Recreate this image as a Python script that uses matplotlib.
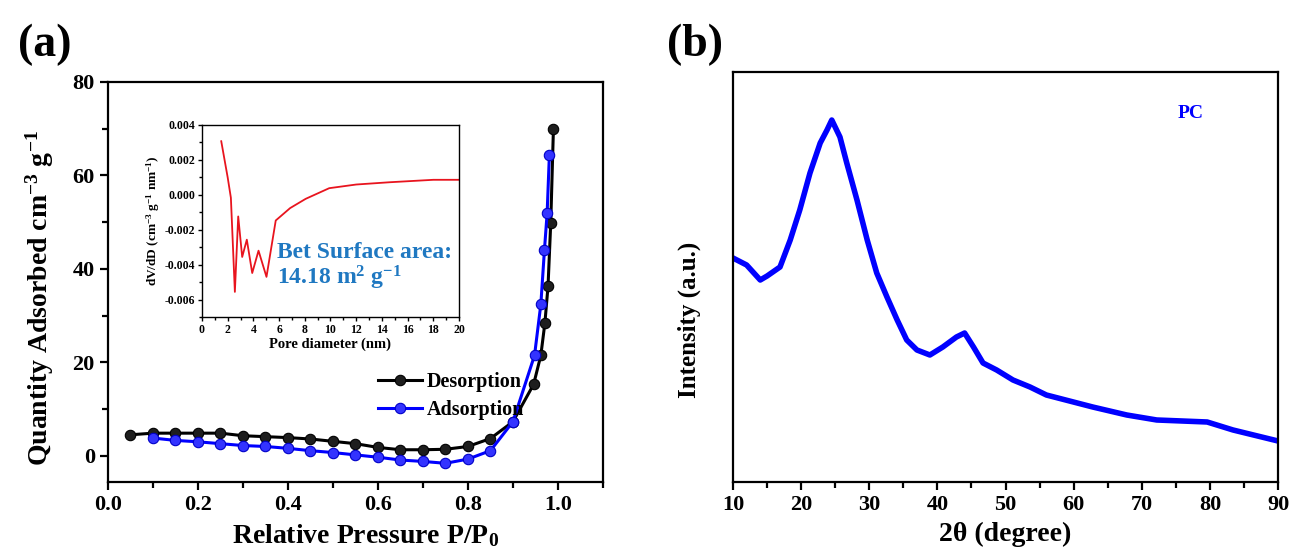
import matplotlib
matplotlib.use("Agg")
import matplotlib.pyplot as plt
import matplotlib.ticker as mticker

plt.rcParams['font.family'] = ['Liberation Serif', 'DejaVu Serif']
plt.rcParams['font.weight'] = 'bold'
plt.rcParams['mathtext.fontset'] = 'custom'
plt.rcParams['mathtext.rm'] = 'Liberation Serif:bold'
plt.rcParams['mathtext.bf'] = 'Liberation Serif:bold'
plt.rcParams['mathtext.it'] = 'Liberation Serif:bold:italic'
plt.rcParams['axes.linewidth'] = 1.6

# ---- Panel (a): N2 isotherm ----
des_x = [0.05, 0.10, 0.15, 0.20, 0.25, 0.30, 0.35, 0.40, 0.45, 0.50, 0.55, 0.60,
         0.65, 0.70, 0.75, 0.80, 0.85, 0.90, 0.946, 0.962, 0.971, 0.978, 0.984, 0.99]
des_y = [4.5, 4.85, 4.85, 4.85, 4.85, 4.3, 4.1, 3.9, 3.6, 3.1, 2.6, 1.8,
         1.3, 1.3, 1.4, 2.0, 3.7, 7.3, 15.3, 21.5, 28.4, 36.3, 49.8, 70.0]
ads_x = [0.10, 0.15, 0.20, 0.25, 0.30, 0.35, 0.40, 0.45, 0.50, 0.55, 0.60, 0.65,
         0.70, 0.75, 0.80, 0.85, 0.90, 0.948, 0.962, 0.970, 0.976, 0.981]
ads_y = [3.8, 3.3, 3.0, 2.6, 2.2, 2.0, 1.6, 1.1, 0.7, 0.2, -0.3, -0.9,
         -1.2, -1.6, -0.7, 1.1, 7.3, 21.5, 32.4, 44.0, 51.9, 64.4]

# ---- Inset: pore size distribution ----
pore_d = [1.5, 2.0, 2.25, 2.56, 2.82, 3.13, 3.49, 3.91, 4.4, 5.02, 5.74, 6.86,
          8.07, 9.9, 12.0, 14.6, 18.0, 20.0]
dvdd = [0.00307, 0.0010, -0.00017, -0.00556, -0.00124, -0.00356, -0.00257, -0.00448,
        -0.0032, -0.0047, -0.00147, -0.00076, -0.00023, 0.00038, 0.00059, 0.00072,
        0.00086, 0.00086]

# ---- Panel (b): XRD ----
two_theta = [10, 12, 14, 15, 16.9, 18.4, 19.8, 21.3, 22.8, 23.8, 24.5, 25.7, 26.7,
             28.2, 29.7, 31.1, 32.6, 34.1, 35.5, 37, 38.9, 40.8, 42.8, 44, 45.3,
             46.7, 48.7, 51.1, 53.6, 56, 62.8, 67.8, 72.2, 79.6, 83.4, 90]
intensity = [224, 217, 202, 206, 215, 242, 272, 309, 339, 352, 362, 345, 319,
             282, 242, 209, 185, 162, 142, 132, 127, 135, 145, 149, 135,
             119, 112, 102, 95, 87, 75, 67, 62, 60, 52, 41]

fig = plt.figure(figsize=(12.93, 5.60), dpi=100)

# Panel (a)
ax1 = fig.add_axes([0.0835, 0.1393, 0.3828, 0.7143])
ax1.plot(des_x, des_y, '-o', color='black', lw=2.2, ms=7.5, mfc='#1e1e1e',
         mec='black', mew=0.8, label='Desorption', zorder=3)
ax1.plot(ads_x, ads_y, '-o', color='#0000ff', lw=2.2, ms=7.5, mfc='#3333ff',
         mec='#0000c8', mew=0.8, label='Adsorption', zorder=4)
ax1.set_xlim(0, 1.1)
ax1.set_ylim(-5.6, 80)
ax1.set_xticks([0.0, 0.2, 0.4, 0.6, 0.8, 1.0])
ax1.set_xticks([0.1, 0.3, 0.5, 0.7, 0.9, 1.1], minor=True)
ax1.set_yticks([0, 20, 40, 60, 80])
ax1.set_yticks([10, 30, 50, 70], minor=True)
ax1.tick_params(which='major', direction='out', length=6, width=1.6, labelsize=16)
ax1.tick_params(which='minor', direction='out', length=4, width=1.6)
for lab in ax1.get_xticklabels() + ax1.get_yticklabels():
    lab.set_fontweight('bold')
ax1.set_xlabel(r'Relative Pressure P/P$_0$', fontsize=20, fontweight='bold')
ax1.xaxis.set_label_coords(0.52, -0.1)
ax1.set_ylabel(r'Quantity Adsorbed cm$^{-3}$ g$^{-1}$', fontsize=20, fontweight='bold')
ax1.yaxis.set_label_coords(-0.105, 0.46)
leg = ax1.legend(loc='center left', bbox_to_anchor=(0.545, 0.215), frameon=False,
                 prop={'family': 'Liberation Serif', 'weight': 'bold', 'size': 14.5},
                 handlelength=2.2, handletextpad=0.25, labelspacing=0.4,
                 borderpad=0, borderaxespad=0)
fig.text(0.014, 0.9, '(a)', fontsize=33, fontweight='bold')

# Inset
axi = fig.add_axes([0.1562, 0.4339, 0.1988, 0.3429])
axi.plot(pore_d, dvdd, '-', color='#e8141e', lw=1.3)
axi.set_xlim(0, 20)
axi.set_ylim(-0.007, 0.004)
axi.set_xticks(range(0, 21, 2))
axi.set_yticks([-0.006, -0.004, -0.002, 0.0, 0.002, 0.004])
axi.set_yticks([-0.007, -0.005, -0.003, -0.001, 0.001, 0.003], minor=True)
axi.set_xticks(range(1, 20, 2), minor=True)
axi.yaxis.set_major_formatter(mticker.FormatStrFormatter('%.3f'))
axi.tick_params(which='major', direction='out', length=3, width=1.0, labelsize=8.5, pad=2)
axi.tick_params(which='minor', direction='out', length=2, width=1.0)
for s in axi.spines.values():
    s.set_linewidth(1.0)
for lab in axi.get_xticklabels() + axi.get_yticklabels():
    lab.set_fontweight('bold')
axi.set_xlabel('Pore diameter (nm)', fontsize=10.5, fontweight='bold', labelpad=1)
axi.set_ylabel(r'dV/dD (cm$^{-3}$ g$^{-1}$ nm$^{-1}$)', fontsize=9.5, fontweight='bold', labelpad=2)
axi.text(0.29, 0.26, 'Bet Surface area:\n' + r'14.18 m$^{2}$ g$^{-1}$', transform=axi.transAxes,
         color='#1f78c1', fontsize=17, fontweight='bold', va='center', ha='left',
         linespacing=1.05)

# Panel (b)
ax2 = fig.add_axes([0.5669, 0.1393, 0.4215, 0.7321])
ax2.plot(two_theta, intensity, '-', color='#0000ff', lw=4, solid_joinstyle='round')
ax2.set_xlim(10, 90)
ax2.set_ylim(0, 410)
ax2.set_xticks(range(10, 91, 10))
ax2.set_xticks(range(15, 90, 10), minor=True)
ax2.set_yticks([])
ax2.tick_params(which='major', direction='out', length=6, width=1.6, labelsize=16)
ax2.tick_params(which='minor', direction='out', length=4, width=1.6)
for lab in ax2.get_xticklabels():
    lab.set_fontweight('bold')
ax2.set_xlabel(r'2θ (degree)', fontsize=20, fontweight='bold')
ax2.xaxis.set_label_coords(0.5, -0.098)
ax2.set_ylabel('Intensity (a.u.)', fontsize=18, fontweight='bold')
ax2.yaxis.set_label_coords(-0.058, 0.395)
ax2.text(0.84, 0.90, 'PC', transform=ax2.transAxes, color='#0000ff',
         fontsize=14, fontweight='bold', ha='center', va='center')
fig.text(0.516, 0.9, '(b)', fontsize=33, fontweight='bold')

fig.savefig('out.png', dpi=100)
